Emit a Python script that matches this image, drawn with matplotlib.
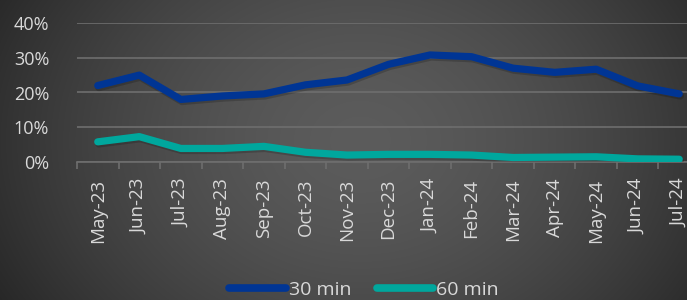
import numpy as np
import matplotlib
matplotlib.use("Agg")
import matplotlib.pyplot as plt
import matplotlib.patheffects as pe
from matplotlib.ticker import FuncFormatter, MultipleLocator

months = ["May-23", "Jun-23", "Jul-23", "Aug-23", "Sep-23", "Oct-23", "Nov-23",
          "Dec-23", "Jan-24", "Feb-24", "Mar-24", "Apr-24", "May-24", "Jun-24", "Jul-24"]
min30 = [22.0, 25.0, 18.0, 19.0, 19.6, 22.2, 23.6, 28.1, 30.8, 30.3, 27.0, 25.8, 26.7, 21.9, 19.6]
min60 = [5.8, 7.3, 3.9, 3.9, 4.5, 2.8, 2.0, 2.2, 2.2, 2.0, 1.3, 1.4, 1.5, 0.9, 0.8]

plt.rcParams['font.family'] = ['Open Sans', 'DejaVu Sans']
W, H = 687, 300
fig = plt.figure(figsize=(W / 100, H / 100), dpi=100)

# radial gradient background
bg = fig.add_axes([0, 0, 1, 1], zorder=-10)
yy, xx = np.mgrid[0:H, 0:W]
r = np.sqrt(((xx - 360) / 420.0) ** 2 + ((yy - 140) / 330.0) ** 2)
v = 0.36 - 0.21 * np.clip(r, 0, 1) ** 1.6
img = np.dstack([v, v, v])
bg.imshow(img, aspect='auto', extent=[0, 1, 0, 1], origin='upper')
bg.set_axis_off()

ax = fig.add_axes([77 / W, 138 / H, 623 / W, 139 / H])
ax.patch.set_alpha(0)
x = np.arange(len(months))
shadow = [pe.SimpleLineShadow(offset=(0.8, -1.5), shadow_color='black', alpha=0.18), pe.Normal()]
ax.plot(x, np.array(min30) / 100, color='#003594', lw=5.2, solid_capstyle='round',
        solid_joinstyle='round', label='30 min', path_effects=shadow, zorder=3)
ax.plot(x, np.array(min60) / 100, color='#00A79D', lw=5.2, solid_capstyle='round',
        solid_joinstyle='round', label='60 min', path_effects=shadow, zorder=3)

ax.set_xlim(-0.5, len(months) - 0.5)
ax.set_ylim(0, 0.40)
ax.yaxis.set_major_locator(MultipleLocator(0.1))
ax.yaxis.set_major_formatter(FuncFormatter(lambda v, p: f"{v*100:.0f}%"))
ax.grid(axis='y', color='#6e6e6e', lw=1.2)
ax.set_axisbelow(True)
for s in ['top', 'right', 'left']:
    ax.spines[s].set_visible(False)
ax.spines['bottom'].set_color('#6e6e6e')
ax.spines['bottom'].set_linewidth(1.2)

ax.set_xticks(x)
ax.set_xticklabels(months, rotation=90)
ax.set_xticks(np.arange(-0.5, len(months), 1), minor=True)
ax.tick_params(axis='x', which='major', length=0, pad=12, labelsize=13.5, labelcolor='#d9d9d9')
ax.tick_params(axis='x', which='minor', length=5, width=1.2, color='#6e6e6e')
ax.tick_params(axis='y', length=0, pad=20, labelsize=13, labelcolor='#d9d9d9')

leg = fig.legend(loc='center', bbox_to_anchor=(364 / W, 1 - 290 / H), ncol=2, frameon=False,
                 fontsize=14, labelcolor='#d9d9d9', handlelength=2.9, handletextpad=0.15,
                 columnspacing=1.3)
for line in leg.get_lines():
    line.set_linewidth(5.5)
    line.set_solid_capstyle('round')
    line.set_path_effects([])

fig.savefig('out.png', dpi=100)
